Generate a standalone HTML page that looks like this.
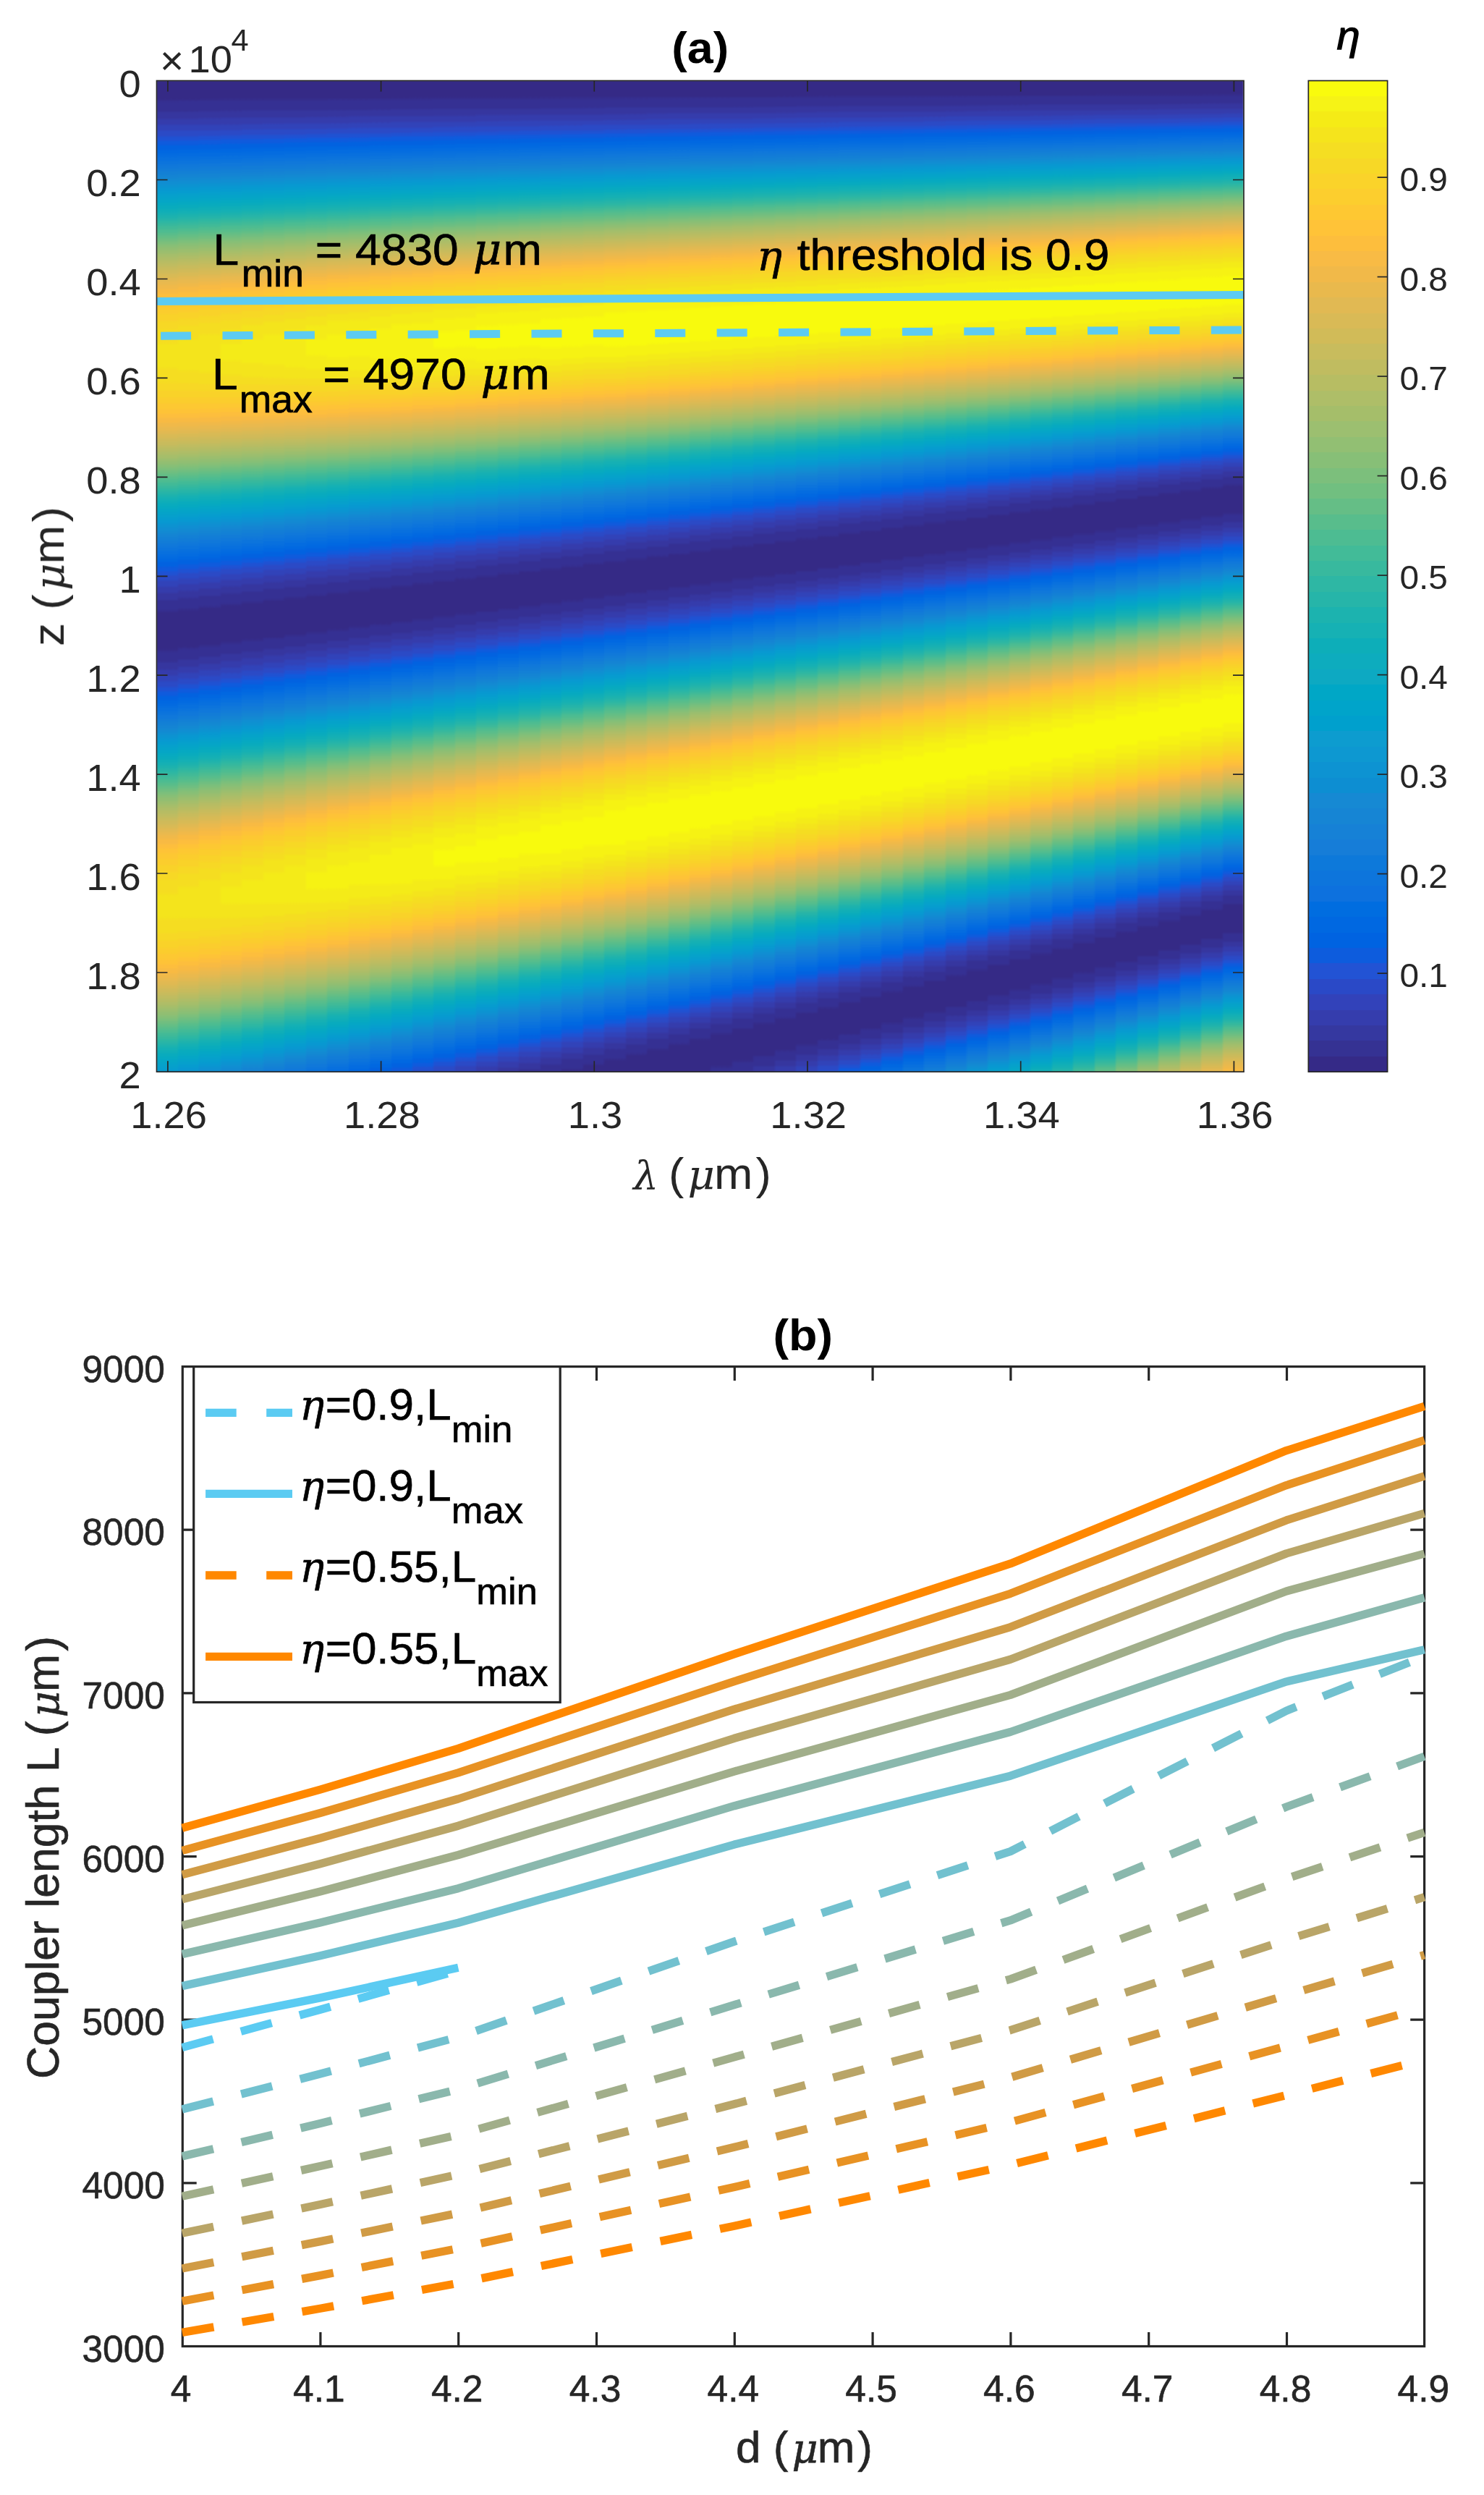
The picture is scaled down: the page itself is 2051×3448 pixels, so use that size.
<!DOCTYPE html>
<html lang="en"><head><meta charset="utf-8"><title>(a) (b)</title>
<style>html,body{margin:0;padding:0;background:#fff}svg{display:block}text{font-family:'Liberation Sans', sans-serif}</style></head><body>
<svg width="2051" height="3448" viewBox="0 0 2051 3448">
<rect width="2051" height="3448" fill="#fff"/>
<defs>
<linearGradient id="g" x1="0" y1="0" x2="0" y2="1">
<stop offset="0" stop-color="#000000"/>
<stop offset="0.005" stop-color="#000000"/>
<stop offset="0.01" stop-color="#020202"/>
<stop offset="0.015" stop-color="#040404"/>
<stop offset="0.02" stop-color="#060606"/>
<stop offset="0.025" stop-color="#0a0a0a"/>
<stop offset="0.03" stop-color="#0e0e0e"/>
<stop offset="0.035" stop-color="#131313"/>
<stop offset="0.04" stop-color="#181818"/>
<stop offset="0.045" stop-color="#1f1f1f"/>
<stop offset="0.05" stop-color="#252525"/>
<stop offset="0.055" stop-color="#2d2d2d"/>
<stop offset="0.06" stop-color="#353535"/>
<stop offset="0.065" stop-color="#3d3d3d"/>
<stop offset="0.07" stop-color="#464646"/>
<stop offset="0.075" stop-color="#4f4f4f"/>
<stop offset="0.08" stop-color="#585858"/>
<stop offset="0.085" stop-color="#626262"/>
<stop offset="0.09" stop-color="#6c6c6c"/>
<stop offset="0.095" stop-color="#757575"/>
<stop offset="0.1" stop-color="#7f7f7f"/>
<stop offset="0.105" stop-color="#8a8a8a"/>
<stop offset="0.11" stop-color="#939393"/>
<stop offset="0.115" stop-color="#9d9d9d"/>
<stop offset="0.12" stop-color="#a7a7a7"/>
<stop offset="0.125" stop-color="#b0b0b0"/>
<stop offset="0.13" stop-color="#b9b9b9"/>
<stop offset="0.135" stop-color="#c2c2c2"/>
<stop offset="0.14" stop-color="#cacaca"/>
<stop offset="0.145" stop-color="#d2d2d2"/>
<stop offset="0.15" stop-color="#dadada"/>
<stop offset="0.155" stop-color="#e0e0e0"/>
<stop offset="0.16" stop-color="#e7e7e7"/>
<stop offset="0.165" stop-color="#ececec"/>
<stop offset="0.17" stop-color="#f1f1f1"/>
<stop offset="0.175" stop-color="#f5f5f5"/>
<stop offset="0.18" stop-color="#f9f9f9"/>
<stop offset="0.185" stop-color="#fbfbfb"/>
<stop offset="0.19" stop-color="#fdfdfd"/>
<stop offset="0.195" stop-color="#ffffff"/>
<stop offset="0.2" stop-color="#ffffff"/>
<stop offset="0.205" stop-color="#ffffff"/>
<stop offset="0.21" stop-color="#fdfdfd"/>
<stop offset="0.215" stop-color="#fbfbfb"/>
<stop offset="0.22" stop-color="#f9f9f9"/>
<stop offset="0.225" stop-color="#f5f5f5"/>
<stop offset="0.23" stop-color="#f1f1f1"/>
<stop offset="0.235" stop-color="#ececec"/>
<stop offset="0.24" stop-color="#e7e7e7"/>
<stop offset="0.245" stop-color="#e0e0e0"/>
<stop offset="0.25" stop-color="#dadada"/>
<stop offset="0.255" stop-color="#d2d2d2"/>
<stop offset="0.26" stop-color="#cacaca"/>
<stop offset="0.265" stop-color="#c2c2c2"/>
<stop offset="0.27" stop-color="#b9b9b9"/>
<stop offset="0.275" stop-color="#b0b0b0"/>
<stop offset="0.28" stop-color="#a7a7a7"/>
<stop offset="0.285" stop-color="#9d9d9d"/>
<stop offset="0.29" stop-color="#939393"/>
<stop offset="0.295" stop-color="#8a8a8a"/>
<stop offset="0.3" stop-color="#808080"/>
<stop offset="0.305" stop-color="#757575"/>
<stop offset="0.31" stop-color="#6c6c6c"/>
<stop offset="0.315" stop-color="#626262"/>
<stop offset="0.32" stop-color="#585858"/>
<stop offset="0.325" stop-color="#4f4f4f"/>
<stop offset="0.33" stop-color="#464646"/>
<stop offset="0.335" stop-color="#3d3d3d"/>
<stop offset="0.34" stop-color="#353535"/>
<stop offset="0.345" stop-color="#2d2d2d"/>
<stop offset="0.35" stop-color="#252525"/>
<stop offset="0.355" stop-color="#1f1f1f"/>
<stop offset="0.36" stop-color="#181818"/>
<stop offset="0.365" stop-color="#131313"/>
<stop offset="0.37" stop-color="#0e0e0e"/>
<stop offset="0.375" stop-color="#0a0a0a"/>
<stop offset="0.38" stop-color="#060606"/>
<stop offset="0.385" stop-color="#040404"/>
<stop offset="0.39" stop-color="#020202"/>
<stop offset="0.395" stop-color="#000000"/>
<stop offset="0.4" stop-color="#000000"/>
<stop offset="0.405" stop-color="#000000"/>
<stop offset="0.41" stop-color="#020202"/>
<stop offset="0.415" stop-color="#040404"/>
<stop offset="0.42" stop-color="#060606"/>
<stop offset="0.425" stop-color="#0a0a0a"/>
<stop offset="0.43" stop-color="#0e0e0e"/>
<stop offset="0.435" stop-color="#131313"/>
<stop offset="0.44" stop-color="#181818"/>
<stop offset="0.445" stop-color="#1f1f1f"/>
<stop offset="0.45" stop-color="#252525"/>
<stop offset="0.455" stop-color="#2d2d2d"/>
<stop offset="0.46" stop-color="#353535"/>
<stop offset="0.465" stop-color="#3d3d3d"/>
<stop offset="0.47" stop-color="#464646"/>
<stop offset="0.475" stop-color="#4f4f4f"/>
<stop offset="0.48" stop-color="#585858"/>
<stop offset="0.485" stop-color="#626262"/>
<stop offset="0.49" stop-color="#6c6c6c"/>
<stop offset="0.495" stop-color="#757575"/>
<stop offset="0.5" stop-color="#7f7f7f"/>
<stop offset="0.505" stop-color="#8a8a8a"/>
<stop offset="0.51" stop-color="#939393"/>
<stop offset="0.515" stop-color="#9d9d9d"/>
<stop offset="0.52" stop-color="#a7a7a7"/>
<stop offset="0.525" stop-color="#b0b0b0"/>
<stop offset="0.53" stop-color="#b9b9b9"/>
<stop offset="0.535" stop-color="#c2c2c2"/>
<stop offset="0.54" stop-color="#cacaca"/>
<stop offset="0.545" stop-color="#d2d2d2"/>
<stop offset="0.55" stop-color="#dadada"/>
<stop offset="0.555" stop-color="#e0e0e0"/>
<stop offset="0.56" stop-color="#e7e7e7"/>
<stop offset="0.565" stop-color="#ececec"/>
<stop offset="0.57" stop-color="#f1f1f1"/>
<stop offset="0.575" stop-color="#f5f5f5"/>
<stop offset="0.58" stop-color="#f9f9f9"/>
<stop offset="0.585" stop-color="#fbfbfb"/>
<stop offset="0.59" stop-color="#fdfdfd"/>
<stop offset="0.595" stop-color="#ffffff"/>
<stop offset="0.6" stop-color="#ffffff"/>
<stop offset="0.605" stop-color="#ffffff"/>
<stop offset="0.61" stop-color="#fdfdfd"/>
<stop offset="0.615" stop-color="#fbfbfb"/>
<stop offset="0.62" stop-color="#f9f9f9"/>
<stop offset="0.625" stop-color="#f5f5f5"/>
<stop offset="0.63" stop-color="#f1f1f1"/>
<stop offset="0.635" stop-color="#ececec"/>
<stop offset="0.64" stop-color="#e7e7e7"/>
<stop offset="0.645" stop-color="#e0e0e0"/>
<stop offset="0.65" stop-color="#dadada"/>
<stop offset="0.655" stop-color="#d2d2d2"/>
<stop offset="0.66" stop-color="#cacaca"/>
<stop offset="0.665" stop-color="#c2c2c2"/>
<stop offset="0.67" stop-color="#b9b9b9"/>
<stop offset="0.675" stop-color="#b0b0b0"/>
<stop offset="0.68" stop-color="#a7a7a7"/>
<stop offset="0.685" stop-color="#9d9d9d"/>
<stop offset="0.69" stop-color="#939393"/>
<stop offset="0.695" stop-color="#8a8a8a"/>
<stop offset="0.7" stop-color="#808080"/>
<stop offset="0.705" stop-color="#757575"/>
<stop offset="0.71" stop-color="#6c6c6c"/>
<stop offset="0.715" stop-color="#626262"/>
<stop offset="0.72" stop-color="#585858"/>
<stop offset="0.725" stop-color="#4f4f4f"/>
<stop offset="0.73" stop-color="#464646"/>
<stop offset="0.735" stop-color="#3d3d3d"/>
<stop offset="0.74" stop-color="#353535"/>
<stop offset="0.745" stop-color="#2d2d2d"/>
<stop offset="0.75" stop-color="#252525"/>
<stop offset="0.755" stop-color="#1f1f1f"/>
<stop offset="0.76" stop-color="#181818"/>
<stop offset="0.765" stop-color="#131313"/>
<stop offset="0.77" stop-color="#0e0e0e"/>
<stop offset="0.775" stop-color="#0a0a0a"/>
<stop offset="0.78" stop-color="#060606"/>
<stop offset="0.785" stop-color="#040404"/>
<stop offset="0.79" stop-color="#020202"/>
<stop offset="0.795" stop-color="#000000"/>
<stop offset="0.8" stop-color="#000000"/>
<stop offset="0.805" stop-color="#000000"/>
<stop offset="0.81" stop-color="#020202"/>
<stop offset="0.815" stop-color="#040404"/>
<stop offset="0.82" stop-color="#060606"/>
<stop offset="0.825" stop-color="#0a0a0a"/>
<stop offset="0.83" stop-color="#0e0e0e"/>
<stop offset="0.835" stop-color="#131313"/>
<stop offset="0.84" stop-color="#181818"/>
<stop offset="0.845" stop-color="#1f1f1f"/>
<stop offset="0.85" stop-color="#252525"/>
<stop offset="0.855" stop-color="#2d2d2d"/>
<stop offset="0.86" stop-color="#353535"/>
<stop offset="0.865" stop-color="#3d3d3d"/>
<stop offset="0.87" stop-color="#464646"/>
<stop offset="0.875" stop-color="#4f4f4f"/>
<stop offset="0.88" stop-color="#585858"/>
<stop offset="0.885" stop-color="#626262"/>
<stop offset="0.89" stop-color="#6c6c6c"/>
<stop offset="0.895" stop-color="#757575"/>
<stop offset="0.9" stop-color="#7f7f7f"/>
<stop offset="0.905" stop-color="#8a8a8a"/>
<stop offset="0.91" stop-color="#939393"/>
<stop offset="0.915" stop-color="#9d9d9d"/>
<stop offset="0.92" stop-color="#a7a7a7"/>
<stop offset="0.925" stop-color="#b0b0b0"/>
<stop offset="0.93" stop-color="#b9b9b9"/>
<stop offset="0.935" stop-color="#c2c2c2"/>
<stop offset="0.94" stop-color="#cacaca"/>
<stop offset="0.945" stop-color="#d2d2d2"/>
<stop offset="0.95" stop-color="#dadada"/>
<stop offset="0.955" stop-color="#e0e0e0"/>
<stop offset="0.96" stop-color="#e7e7e7"/>
<stop offset="0.965" stop-color="#ececec"/>
<stop offset="0.97" stop-color="#f1f1f1"/>
<stop offset="0.975" stop-color="#f5f5f5"/>
<stop offset="0.98" stop-color="#f9f9f9"/>
<stop offset="0.985" stop-color="#fbfbfb"/>
<stop offset="0.99" stop-color="#fdfdfd"/>
<stop offset="0.995" stop-color="#ffffff"/>
<stop offset="1" stop-color="#ffffff"/>
</linearGradient>
<filter id="pm" filterUnits="userSpaceOnUse" x="216" y="111" width="1503" height="1371" color-interpolation-filters="sRGB">
<feComponentTransfer>
<feFuncR type="discrete" tableValues="0.2081 0.2116 0.2123 0.2081 0.1959 0.1707 0.1253 0.0591 0.0117 0.006 0.0165 0.0329 0.0498 0.0629 0.0723 0.0779 0.0793 0.0749 0.0641 0.0488 0.0343 0.0265 0.0239 0.0231 0.0228 0.0267 0.0384 0.059 0.0843 0.1133 0.1453 0.1801 0.2178 0.2586 0.3022 0.3482 0.3953 0.442 0.4871 0.53 0.5709 0.6099 0.6473 0.6834 0.7184 0.7525 0.7858 0.8185 0.8507 0.8824 0.9139 0.945 0.9739 0.9938 0.999 0.9955 0.988 0.9789 0.9697 0.9626 0.9589 0.9598 0.9661 0.9763"/>
<feFuncG type="discrete" tableValues="0.1663 0.1898 0.2138 0.2386 0.2645 0.2919 0.3242 0.3598 0.3875 0.4086 0.4266 0.443 0.4586 0.4737 0.4887 0.504 0.52 0.5375 0.557 0.5772 0.5966 0.6137 0.6287 0.6418 0.6535 0.6642 0.6743 0.6838 0.6928 0.7015 0.7098 0.7177 0.725 0.7317 0.7376 0.7424 0.7459 0.7481 0.7491 0.7491 0.7485 0.7473 0.7456 0.7435 0.7411 0.7384 0.7356 0.7327 0.7299 0.7274 0.7258 0.7261 0.7314 0.7455 0.7653 0.7861 0.8066 0.8271 0.8481 0.8705 0.8949 0.9218 0.9514 0.9831"/>
<feFuncB type="discrete" tableValues="0.5292 0.5777 0.627 0.6771 0.7279 0.7792 0.8303 0.8683 0.882 0.8828 0.8786 0.872 0.8641 0.8554 0.8467 0.8384 0.8312 0.8263 0.824 0.8228 0.8199 0.8135 0.8038 0.7913 0.7768 0.7607 0.7436 0.7254 0.7062 0.6859 0.6646 0.6424 0.6193 0.5954 0.5712 0.5473 0.5244 0.5033 0.484 0.4661 0.4494 0.4337 0.4188 0.4044 0.3905 0.3768 0.3633 0.3498 0.336 0.3217 0.3063 0.2886 0.2666 0.2403 0.2164 0.1967 0.1794 0.1633 0.1475 0.1309 0.1132 0.0948 0.0755 0.0538"/>
</feComponentTransfer>
<feGaussianBlur stdDeviation="1.3"/>
</filter>
<filter id="bl" filterUnits="userSpaceOnUse" x="0" y="0" width="2051" height="1720"><feGaussianBlur stdDeviation="0.65"/></filter>
<linearGradient id="cb" x1="0" y1="1" x2="0" y2="0">
<stop offset="0" stop-color="#352a87"/><stop offset="0.015625" stop-color="#352a87"/>
<stop offset="0.015625" stop-color="#363093"/><stop offset="0.03125" stop-color="#363093"/>
<stop offset="0.03125" stop-color="#3637a0"/><stop offset="0.046875" stop-color="#3637a0"/>
<stop offset="0.046875" stop-color="#353dad"/><stop offset="0.0625" stop-color="#353dad"/>
<stop offset="0.0625" stop-color="#3243ba"/><stop offset="0.078125" stop-color="#3243ba"/>
<stop offset="0.078125" stop-color="#2c4ac7"/><stop offset="0.09375" stop-color="#2c4ac7"/>
<stop offset="0.09375" stop-color="#2053d4"/><stop offset="0.10938" stop-color="#2053d4"/>
<stop offset="0.10938" stop-color="#0f5cdd"/><stop offset="0.125" stop-color="#0f5cdd"/>
<stop offset="0.125" stop-color="#0363e1"/><stop offset="0.14062" stop-color="#0363e1"/>
<stop offset="0.14062" stop-color="#0268e1"/><stop offset="0.15625" stop-color="#0268e1"/>
<stop offset="0.15625" stop-color="#046de0"/><stop offset="0.17188" stop-color="#046de0"/>
<stop offset="0.17188" stop-color="#0871de"/><stop offset="0.1875" stop-color="#0871de"/>
<stop offset="0.1875" stop-color="#0d75dc"/><stop offset="0.20312" stop-color="#0d75dc"/>
<stop offset="0.20312" stop-color="#1079da"/><stop offset="0.21875" stop-color="#1079da"/>
<stop offset="0.21875" stop-color="#127dd8"/><stop offset="0.23438" stop-color="#127dd8"/>
<stop offset="0.23438" stop-color="#1481d6"/><stop offset="0.25" stop-color="#1481d6"/>
<stop offset="0.25" stop-color="#1485d4"/><stop offset="0.26562" stop-color="#1485d4"/>
<stop offset="0.26562" stop-color="#1389d3"/><stop offset="0.28125" stop-color="#1389d3"/>
<stop offset="0.28125" stop-color="#108ed2"/><stop offset="0.29688" stop-color="#108ed2"/>
<stop offset="0.29688" stop-color="#0c93d2"/><stop offset="0.3125" stop-color="#0c93d2"/>
<stop offset="0.3125" stop-color="#0998d1"/><stop offset="0.32812" stop-color="#0998d1"/>
<stop offset="0.32812" stop-color="#079ccf"/><stop offset="0.34375" stop-color="#079ccf"/>
<stop offset="0.34375" stop-color="#06a0cd"/><stop offset="0.35938" stop-color="#06a0cd"/>
<stop offset="0.35938" stop-color="#06a4ca"/><stop offset="0.375" stop-color="#06a4ca"/>
<stop offset="0.375" stop-color="#06a7c6"/><stop offset="0.39062" stop-color="#06a7c6"/>
<stop offset="0.39062" stop-color="#07a9c2"/><stop offset="0.40625" stop-color="#07a9c2"/>
<stop offset="0.40625" stop-color="#0aacbe"/><stop offset="0.42188" stop-color="#0aacbe"/>
<stop offset="0.42188" stop-color="#0faeb9"/><stop offset="0.4375" stop-color="#0faeb9"/>
<stop offset="0.4375" stop-color="#15b1b4"/><stop offset="0.45312" stop-color="#15b1b4"/>
<stop offset="0.45312" stop-color="#1db3af"/><stop offset="0.46875" stop-color="#1db3af"/>
<stop offset="0.46875" stop-color="#25b5a9"/><stop offset="0.48438" stop-color="#25b5a9"/>
<stop offset="0.48438" stop-color="#2eb7a4"/><stop offset="0.5" stop-color="#2eb7a4"/>
<stop offset="0.5" stop-color="#38b99e"/><stop offset="0.51562" stop-color="#38b99e"/>
<stop offset="0.51562" stop-color="#42bb98"/><stop offset="0.53125" stop-color="#42bb98"/>
<stop offset="0.53125" stop-color="#4dbc92"/><stop offset="0.54688" stop-color="#4dbc92"/>
<stop offset="0.54688" stop-color="#59bd8c"/><stop offset="0.5625" stop-color="#59bd8c"/>
<stop offset="0.5625" stop-color="#65be86"/><stop offset="0.57812" stop-color="#65be86"/>
<stop offset="0.57812" stop-color="#71bf80"/><stop offset="0.59375" stop-color="#71bf80"/>
<stop offset="0.59375" stop-color="#7cbf7b"/><stop offset="0.60938" stop-color="#7cbf7b"/>
<stop offset="0.60938" stop-color="#87bf77"/><stop offset="0.625" stop-color="#87bf77"/>
<stop offset="0.625" stop-color="#92bf73"/><stop offset="0.64062" stop-color="#92bf73"/>
<stop offset="0.64062" stop-color="#9cbf6f"/><stop offset="0.65625" stop-color="#9cbf6f"/>
<stop offset="0.65625" stop-color="#a5be6b"/><stop offset="0.67188" stop-color="#a5be6b"/>
<stop offset="0.67188" stop-color="#aebe67"/><stop offset="0.6875" stop-color="#aebe67"/>
<stop offset="0.6875" stop-color="#b7bd64"/><stop offset="0.70312" stop-color="#b7bd64"/>
<stop offset="0.70312" stop-color="#c0bc60"/><stop offset="0.71875" stop-color="#c0bc60"/>
<stop offset="0.71875" stop-color="#c8bc5d"/><stop offset="0.73438" stop-color="#c8bc5d"/>
<stop offset="0.73438" stop-color="#d1bb59"/><stop offset="0.75" stop-color="#d1bb59"/>
<stop offset="0.75" stop-color="#d9ba56"/><stop offset="0.76562" stop-color="#d9ba56"/>
<stop offset="0.76562" stop-color="#e1b952"/><stop offset="0.78125" stop-color="#e1b952"/>
<stop offset="0.78125" stop-color="#e9b94e"/><stop offset="0.79688" stop-color="#e9b94e"/>
<stop offset="0.79688" stop-color="#f1b94a"/><stop offset="0.8125" stop-color="#f1b94a"/>
<stop offset="0.8125" stop-color="#f8bb44"/><stop offset="0.82812" stop-color="#f8bb44"/>
<stop offset="0.82812" stop-color="#fdbe3d"/><stop offset="0.84375" stop-color="#fdbe3d"/>
<stop offset="0.84375" stop-color="#ffc337"/><stop offset="0.85938" stop-color="#ffc337"/>
<stop offset="0.85938" stop-color="#fec832"/><stop offset="0.875" stop-color="#fec832"/>
<stop offset="0.875" stop-color="#fcce2e"/><stop offset="0.89062" stop-color="#fcce2e"/>
<stop offset="0.89062" stop-color="#fad32a"/><stop offset="0.90625" stop-color="#fad32a"/>
<stop offset="0.90625" stop-color="#f7d826"/><stop offset="0.92188" stop-color="#f7d826"/>
<stop offset="0.92188" stop-color="#f5de21"/><stop offset="0.9375" stop-color="#f5de21"/>
<stop offset="0.9375" stop-color="#f5e41d"/><stop offset="0.95312" stop-color="#f5e41d"/>
<stop offset="0.95312" stop-color="#f5eb18"/><stop offset="0.96875" stop-color="#f5eb18"/>
<stop offset="0.96875" stop-color="#f6f313"/><stop offset="0.98438" stop-color="#f6f313"/>
<stop offset="0.98438" stop-color="#f9fb0e"/><stop offset="1" stop-color="#f9fb0e"/>
</linearGradient>
<clipPath id="ca"><rect x="216.50" y="111.50" width="1502.50" height="1369.70"/></clipPath>
<clipPath id="cbx"><rect x="252.3" y="1888.6" width="1716.9" height="1353.9"/></clipPath>
</defs>
<g filter="url(#pm)">
<rect x="211.5" y="106.5" width="1512.5" height="1379.7" fill="#000"/>
<rect x="215" y="111.50" width="31" height="1901.76" fill="url(#g)" fill-opacity="0.945"/>
<rect x="246" y="111.50" width="29" height="1893.42" fill="url(#g)" fill-opacity="0.949"/>
<rect x="275" y="111.50" width="30" height="1885.06" fill="url(#g)" fill-opacity="0.953"/>
<rect x="305" y="111.50" width="29" height="1876.66" fill="url(#g)" fill-opacity="0.957"/>
<rect x="334" y="111.50" width="30" height="1868.23" fill="url(#g)" fill-opacity="0.961"/>
<rect x="364" y="111.50" width="29" height="1859.77" fill="url(#g)" fill-opacity="0.965"/>
<rect x="393" y="111.50" width="30" height="1851.28" fill="url(#g)" fill-opacity="0.968"/>
<rect x="423" y="111.50" width="29" height="1842.76" fill="url(#g)" fill-opacity="0.971"/>
<rect x="452" y="111.50" width="30" height="1834.21" fill="url(#g)" fill-opacity="0.975"/>
<rect x="482" y="111.50" width="29" height="1825.63" fill="url(#g)" fill-opacity="0.977"/>
<rect x="511" y="111.50" width="30" height="1817.01" fill="url(#g)" fill-opacity="0.980"/>
<rect x="541" y="111.50" width="29" height="1808.37" fill="url(#g)" fill-opacity="0.983"/>
<rect x="570" y="111.50" width="29" height="1799.69" fill="url(#g)" fill-opacity="0.985"/>
<rect x="599" y="111.50" width="30" height="1790.99" fill="url(#g)" fill-opacity="0.987"/>
<rect x="629" y="111.50" width="29" height="1782.25" fill="url(#g)" fill-opacity="0.989"/>
<rect x="658" y="111.50" width="30" height="1773.49" fill="url(#g)" fill-opacity="0.991"/>
<rect x="688" y="111.50" width="29" height="1764.69" fill="url(#g)" fill-opacity="0.993"/>
<rect x="717" y="111.50" width="30" height="1755.86" fill="url(#g)" fill-opacity="0.994"/>
<rect x="747" y="111.50" width="29" height="1747.01" fill="url(#g)" fill-opacity="0.996"/>
<rect x="776" y="111.50" width="30" height="1738.12" fill="url(#g)" fill-opacity="0.997"/>
<rect x="806" y="111.50" width="29" height="1729.20" fill="url(#g)" fill-opacity="0.998"/>
<rect x="835" y="111.50" width="30" height="1720.25" fill="url(#g)" fill-opacity="0.999"/>
<rect x="865" y="111.50" width="29" height="1711.27" fill="url(#g)" fill-opacity="0.999"/>
<rect x="894" y="111.50" width="30" height="1702.25" fill="url(#g)" fill-opacity="1.000"/>
<rect x="924" y="111.50" width="29" height="1693.21" fill="url(#g)" fill-opacity="1.000"/>
<rect x="953" y="111.50" width="29" height="1684.14" fill="url(#g)" fill-opacity="1.000"/>
<rect x="982" y="111.50" width="30" height="1675.03" fill="url(#g)" fill-opacity="1.000"/>
<rect x="1012" y="111.50" width="29" height="1665.90" fill="url(#g)" fill-opacity="1.000"/>
<rect x="1041" y="111.50" width="30" height="1656.73" fill="url(#g)" fill-opacity="1.000"/>
<rect x="1071" y="111.50" width="29" height="1647.54" fill="url(#g)" fill-opacity="1.000"/>
<rect x="1100" y="111.50" width="30" height="1638.31" fill="url(#g)" fill-opacity="1.000"/>
<rect x="1130" y="111.50" width="29" height="1629.06" fill="url(#g)" fill-opacity="1.000"/>
<rect x="1159" y="111.50" width="30" height="1619.77" fill="url(#g)" fill-opacity="1.000"/>
<rect x="1189" y="111.50" width="29" height="1610.45" fill="url(#g)" fill-opacity="1.000"/>
<rect x="1218" y="111.50" width="30" height="1601.10" fill="url(#g)" fill-opacity="1.000"/>
<rect x="1248" y="111.50" width="29" height="1591.72" fill="url(#g)" fill-opacity="1.000"/>
<rect x="1277" y="111.50" width="30" height="1582.31" fill="url(#g)" fill-opacity="1.000"/>
<rect x="1307" y="111.50" width="29" height="1572.87" fill="url(#g)" fill-opacity="1.000"/>
<rect x="1336" y="111.50" width="29" height="1563.40" fill="url(#g)" fill-opacity="1.000"/>
<rect x="1365" y="111.50" width="30" height="1553.89" fill="url(#g)" fill-opacity="1.000"/>
<rect x="1395" y="111.50" width="29" height="1544.36" fill="url(#g)" fill-opacity="1.000"/>
<rect x="1424" y="111.50" width="30" height="1534.80" fill="url(#g)" fill-opacity="1.000"/>
<rect x="1454" y="111.50" width="29" height="1525.20" fill="url(#g)" fill-opacity="1.000"/>
<rect x="1483" y="111.50" width="30" height="1515.58" fill="url(#g)" fill-opacity="1.000"/>
<rect x="1513" y="111.50" width="29" height="1505.92" fill="url(#g)" fill-opacity="1.000"/>
<rect x="1542" y="111.50" width="30" height="1496.23" fill="url(#g)" fill-opacity="1.000"/>
<rect x="1572" y="111.50" width="29" height="1486.52" fill="url(#g)" fill-opacity="1.000"/>
<rect x="1601" y="111.50" width="30" height="1476.77" fill="url(#g)" fill-opacity="1.000"/>
<rect x="1631" y="111.50" width="29" height="1466.99" fill="url(#g)" fill-opacity="1.000"/>
<rect x="1660" y="111.50" width="30" height="1457.18" fill="url(#g)" fill-opacity="1.000"/>
<rect x="1690" y="111.50" width="31" height="1447.34" fill="url(#g)" fill-opacity="1.000"/>
</g>
<g filter="url(#bl)">
<g clip-path="url(#ca)" fill="none" stroke="#5bcbf2" stroke-width="11">
<path d="M216.5 416.5L1719.0 407.5"/>
<path d="M216.5 464.2L1719.0 455.9" stroke-dasharray="42 43.4" stroke-dashoffset="-5.6"/>
</g>
<g stroke="#262626" stroke-width="1.7" fill="none">
<rect x="216.50" y="111.50" width="1502.50" height="1369.70"/>
<path d="M231.9 1481.2v-15M231.9 111.5v15"/>
<path d="M526.6 1481.2v-15M526.6 111.5v15"/>
<path d="M821.3 1481.2v-15M821.3 111.5v15"/>
<path d="M1116.0 1481.2v-15M1116.0 111.5v15"/>
<path d="M1410.7 1481.2v-15M1410.7 111.5v15"/>
<path d="M1705.4 1481.2v-15M1705.4 111.5v15"/>
<path d="M216.5 248.5h15M1719.0 248.5h-15"/>
<path d="M216.5 385.5h15M1719.0 385.5h-15"/>
<path d="M216.5 522.4h15M1719.0 522.4h-15"/>
<path d="M216.5 659.3h15M1719.0 659.3h-15"/>
<path d="M216.5 796.3h15M1719.0 796.3h-15"/>
<path d="M216.5 933.2h15M1719.0 933.2h-15"/>
<path d="M216.5 1070.1h15M1719.0 1070.1h-15"/>
<path d="M216.5 1207.0h15M1719.0 1207.0h-15"/>
<path d="M216.5 1344.0h15M1719.0 1344.0h-15"/>
</g>
<text transform="translate(233.1 1558.5) scale(1.035 1)" font-size="52.5" text-anchor="middle" fill="#262626">1.26</text>
<text transform="translate(527.8 1558.5) scale(1.035 1)" font-size="52.5" text-anchor="middle" fill="#262626">1.28</text>
<text transform="translate(822.5 1558.5) scale(1.035 1)" font-size="52.5" text-anchor="middle" fill="#262626">1.3</text>
<text transform="translate(1117.2 1558.5) scale(1.035 1)" font-size="52.5" text-anchor="middle" fill="#262626">1.32</text>
<text transform="translate(1411.9 1558.5) scale(1.035 1)" font-size="52.5" text-anchor="middle" fill="#262626">1.34</text>
<text transform="translate(1706.6 1558.5) scale(1.035 1)" font-size="52.5" text-anchor="middle" fill="#262626">1.36</text>
<text transform="translate(194.8 134.4) scale(1.035 1)" font-size="52.5" text-anchor="end" fill="#262626">0</text>
<text transform="translate(194.8 271.3) scale(1.035 1)" font-size="52.5" text-anchor="end" fill="#262626">0.2</text>
<text transform="translate(194.8 408.3) scale(1.035 1)" font-size="52.5" text-anchor="end" fill="#262626">0.4</text>
<text transform="translate(194.8 545.2) scale(1.035 1)" font-size="52.5" text-anchor="end" fill="#262626">0.6</text>
<text transform="translate(194.8 682.1) scale(1.035 1)" font-size="52.5" text-anchor="end" fill="#262626">0.8</text>
<text transform="translate(194.8 819.1) scale(1.035 1)" font-size="52.5" text-anchor="end" fill="#262626">1</text>
<text transform="translate(194.8 956.0) scale(1.035 1)" font-size="52.5" text-anchor="end" fill="#262626">1.2</text>
<text transform="translate(194.8 1092.9) scale(1.035 1)" font-size="52.5" text-anchor="end" fill="#262626">1.4</text>
<text transform="translate(194.8 1229.8) scale(1.035 1)" font-size="52.5" text-anchor="end" fill="#262626">1.6</text>
<text transform="translate(194.8 1366.8) scale(1.035 1)" font-size="52.5" text-anchor="end" fill="#262626">1.8</text>
<text transform="translate(194.8 1503.7) scale(1.035 1)" font-size="52.5" text-anchor="end" fill="#262626">2</text>
<text transform="translate(221.0 103.0) scale(1.035 1)" font-size="55.0" text-anchor="start" fill="#262626">×</text>
<text transform="translate(260.5 99.6) scale(1.035 1)" font-size="52.5" text-anchor="start" fill="#262626">10</text>
<text transform="translate(319.5 70.0) scale(1.035 1)" font-size="42.0" text-anchor="start" fill="#262626">4</text>
<text transform="translate(967.8 87.0) scale(1.060 1)" font-size="61.0" text-anchor="middle" fill="#000" font-weight="bold">(a)</text>
<text transform="translate(970.6 1643.3) scale(1.035 1)" font-size="62.0" text-anchor="middle" fill="#262626"><tspan font-family="'DejaVu Serif', 'Liberation Serif', serif" font-style="italic" font-size="86%">λ</tspan><tspan dx="-4"> </tspan>(<tspan font-family="'DejaVu Serif', 'Liberation Serif', serif" font-style="italic" font-size="90%" dx="5.0">μ</tspan><tspan dx="-1.0">m</tspan><tspan dx="4.0">)</tspan></text>
<text transform="translate(88.0 796.5) rotate(-90) scale(1.040 1)" font-size="62.0" text-anchor="middle" fill="#262626">z (<tspan font-family="'DejaVu Serif', 'Liberation Serif', serif" font-style="italic" font-size="90%" dx="5.0">μ</tspan><tspan dx="-1.0">m</tspan><tspan dx="4.0">)</tspan></text>
<text transform="translate(294.5 365.7) scale(1.035 1)" font-size="62.0" text-anchor="start" fill="#000" stroke="#000" stroke-width="0.7">L<tspan dy="30.7" dx="3.5" font-size="51.7">min</tspan><tspan dy="-30.7" dx="-2"> = 4830 </tspan><tspan font-family="'DejaVu Serif', 'Liberation Serif', serif" font-style="italic" font-size="95%" dx="2.0">μ</tspan><tspan dx="2.0">m</tspan></text>
<text transform="translate(293.0 538.2) scale(1.035 1)" font-size="62.0" text-anchor="start" fill="#000" stroke="#000" stroke-width="0.7">L<tspan dy="32.2" dx="2" font-size="51.7">max</tspan><tspan dy="-32.2" dx="-3"> = 4970 </tspan><tspan font-family="'DejaVu Serif', 'Liberation Serif', serif" font-style="italic" font-size="95%" dx="2.0">μ</tspan><tspan dx="2.0">m</tspan></text>
<text transform="translate(1046.0 373.0) scale(1.035 1)" font-size="61.5" text-anchor="start" fill="#000" stroke="#000" stroke-width="0.7"><tspan font-family="'DejaVu Serif', 'Liberation Serif', serif" font-style="italic" font-size="92%">η</tspan><tspan dx="3"> threshold is 0.9</tspan></text>
<rect x="1808.30" y="111.50" width="109.30" height="1369.70" fill="url(#cb)" stroke="#262626" stroke-width="1.7"/>
<g stroke="#262626" stroke-width="1.7">
<path d="M1917.6 1345.1h-14"/>
<path d="M1917.6 1207.6h-14"/>
<path d="M1917.6 1070.1h-14"/>
<path d="M1917.6 932.6h-14"/>
<path d="M1917.6 795.1h-14"/>
<path d="M1917.6 657.6h-14"/>
<path d="M1917.6 520.1h-14"/>
<path d="M1917.6 382.6h-14"/>
<path d="M1917.6 245.1h-14"/>
</g>
<text transform="translate(1934.5 1364.1) scale(1.035 1)" font-size="46.2" text-anchor="start" fill="#262626">0.1</text>
<text transform="translate(1934.5 1226.6) scale(1.035 1)" font-size="46.2" text-anchor="start" fill="#262626">0.2</text>
<text transform="translate(1934.5 1089.1) scale(1.035 1)" font-size="46.2" text-anchor="start" fill="#262626">0.3</text>
<text transform="translate(1934.5 951.6) scale(1.035 1)" font-size="46.2" text-anchor="start" fill="#262626">0.4</text>
<text transform="translate(1934.5 814.1) scale(1.035 1)" font-size="46.2" text-anchor="start" fill="#262626">0.5</text>
<text transform="translate(1934.5 676.6) scale(1.035 1)" font-size="46.2" text-anchor="start" fill="#262626">0.6</text>
<text transform="translate(1934.5 539.1) scale(1.035 1)" font-size="46.2" text-anchor="start" fill="#262626">0.7</text>
<text transform="translate(1934.5 401.6) scale(1.035 1)" font-size="46.2" text-anchor="start" fill="#262626">0.8</text>
<text transform="translate(1934.5 264.1) scale(1.035 1)" font-size="46.2" text-anchor="start" fill="#262626">0.9</text>
<text transform="translate(1863.5 68.0) scale(1.035 1)" font-size="56.0" text-anchor="middle" fill="#000" font-style="italic" stroke="#000" stroke-width="1.3" font-family="'DejaVu Serif', 'Liberation Serif', serif">η</text>
</g>
<g stroke="#262626" stroke-width="3.2" fill="none">
<rect x="252.30" y="1888.60" width="1716.30" height="1353.90"/>
<path d="M442.9 3242.5v-19.4M442.9 1888.6v19.4"/>
<path d="M633.7 3242.5v-19.4M633.7 1888.6v19.4"/>
<path d="M824.5 3242.5v-19.4M824.5 1888.6v19.4"/>
<path d="M1015.3 3242.5v-19.4M1015.3 1888.6v19.4"/>
<path d="M1206.1 3242.5v-19.4M1206.1 1888.6v19.4"/>
<path d="M1396.9 3242.5v-19.4M1396.9 1888.6v19.4"/>
<path d="M1587.7 3242.5v-19.4M1587.7 1888.6v19.4"/>
<path d="M1778.5 3242.5v-19.4M1778.5 1888.6v19.4"/>
<path d="M252.3 3016.8h19.4M1968.6 3016.8h-19.4"/>
<path d="M252.3 2791.2h19.4M1968.6 2791.2h-19.4"/>
<path d="M252.3 2565.6h19.4M1968.6 2565.6h-19.4"/>
<path d="M252.3 2339.9h19.4M1968.6 2339.9h-19.4"/>
<path d="M252.3 2114.2h19.4M1968.6 2114.2h-19.4"/>
</g>
<g fill="none" stroke-width="11.3" stroke-linejoin="round">
<polyline points="251.8,2829.6 442.6,2777.2 633.3,2723.1" stroke="#5bcbf2" stroke-dasharray="44.3 39.8"/>
<polyline points="251.8,2798.9 442.6,2760.9 633.3,2719.3" stroke="#5bcbf2"/>
<polyline points="251.8,2915.0 442.6,2866.0 633.3,2815.1 1014.8,2683.2 1396.4,2558.6 1777.9,2364.2 1968.6,2289.1" stroke="#72c1cf" stroke-dasharray="44.3 39.8"/>
<polyline points="251.8,2744.6 442.6,2702.7 633.3,2657.3 1014.8,2549.1 1396.4,2454.2 1777.9,2323.9 1968.6,2279.7" stroke="#72c1cf"/>
<polyline points="251.8,2979.9 442.6,2934.5 633.3,2887.3 1014.8,2770.7 1396.4,2653.9 1777.9,2497.0 1968.6,2427.3" stroke="#8ab8ad" stroke-dasharray="44.3 39.8"/>
<polyline points="251.8,2700.6 442.6,2657.0 633.3,2609.7 1014.8,2495.7 1396.4,2393.5 1777.9,2261.2 1968.6,2207.8" stroke="#8ab8ad"/>
<polyline points="251.8,3035.2 442.6,2993.6 633.3,2950.2 1014.8,2842.9 1396.4,2735.1 1777.9,2596.2 1968.6,2532.4" stroke="#a1ae8a" stroke-dasharray="44.3 39.8"/>
<polyline points="251.8,2660.9 442.6,2614.0 633.3,2563.5 1014.8,2448.1 1396.4,2342.4 1777.9,2199.0 1968.6,2147.1" stroke="#a1ae8a"/>
<polyline points="251.8,3086.3 442.6,3046.5 633.3,3005.0 1014.8,2907.8 1396.4,2805.7 1777.9,2681.0 1968.6,2621.7" stroke="#b9a568" stroke-dasharray="44.3 39.8"/>
<polyline points="251.8,2624.8 442.6,2575.8 633.3,2523.2 1014.8,2402.3 1396.4,2293.2 1777.9,2146.9 1968.6,2091.4" stroke="#b9a568"/>
<polyline points="251.8,3135.0 442.6,3097.6 633.3,3058.4 1014.8,2967.3 1396.4,2871.0 1777.9,2757.4 1968.6,2701.7" stroke="#d09b45" stroke-dasharray="44.3 39.8"/>
<polyline points="251.8,2590.8 442.6,2540.2 633.3,2486.0 1014.8,2362.2 1396.4,2248.6 1777.9,2100.9 1968.6,2039.8" stroke="#d09b45"/>
<polyline points="251.8,3180.1 442.6,3144.6 633.3,3107.3 1014.8,3022.5 1396.4,2932.8 1777.9,2827.7 1968.6,2774.5" stroke="#e89223" stroke-dasharray="44.3 39.8"/>
<polyline points="251.8,2557.4 442.6,2505.5 633.3,2449.9 1014.8,2323.6 1396.4,2202.3 1777.9,2052.6 1968.6,1990.4" stroke="#e89223"/>
<polyline points="251.8,3223.4 442.6,3190.3 633.3,3155.3 1014.8,3076.2 1396.4,2991.9 1777.9,2895.4 1968.6,2846.5" stroke="#ff8800" stroke-dasharray="44.3 39.8"/>
<polyline points="251.8,2526.3 442.6,2473.1 633.3,2416.3 1014.8,2285.8 1396.4,2160.9 1777.9,2004.6 1968.6,1943.3" stroke="#ff8800"/>
</g>
<g font-size="51.5" fill="#262626" stroke="#262626" stroke-width="0.6">
<text x="250.1" y="3318.6" text-anchor="middle">4</text>
<text x="440.9" y="3318.6" text-anchor="middle">4.1</text>
<text x="631.7" y="3318.6" text-anchor="middle">4.2</text>
<text x="822.5" y="3318.6" text-anchor="middle">4.3</text>
<text x="1013.3" y="3318.6" text-anchor="middle">4.4</text>
<text x="1204.1" y="3318.6" text-anchor="middle">4.5</text>
<text x="1394.9" y="3318.6" text-anchor="middle">4.6</text>
<text x="1585.7" y="3318.6" text-anchor="middle">4.7</text>
<text x="1776.5" y="3318.6" text-anchor="middle">4.8</text>
<text x="1967.3" y="3318.6" text-anchor="middle">4.9</text>
<text x="228" y="3263.5" text-anchor="end">3000</text>
<text x="228" y="3037.8" text-anchor="end">4000</text>
<text x="228" y="2812.2" text-anchor="end">5000</text>
<text x="228" y="2586.6" text-anchor="end">6000</text>
<text x="228" y="2360.9" text-anchor="end">7000</text>
<text x="228" y="2135.2" text-anchor="end">8000</text>
<text x="228" y="1909.6" text-anchor="end">9000</text>
</g>
<text transform="translate(1109.7 1865.5) scale(1.060 1)" font-size="61" font-weight="bold" text-anchor="middle" fill="#000">(b)</text>
<text x="1111.5" y="3402.5" font-size="62" text-anchor="middle" fill="#262626" stroke="#262626" stroke-width="0.6">d (<tspan font-family="'DejaVu Serif', 'Liberation Serif', serif" font-style="italic" font-size="90%" dx="5.0">μ</tspan><tspan dx="-1.0">m</tspan><tspan dx="4.0">)</tspan></text>
<text transform="translate(81.3 2567) rotate(-90)" font-size="62.5" text-anchor="middle" fill="#262626" stroke="#262626" stroke-width="0.6">Coupler length L (<tspan font-family="'DejaVu Serif', 'Liberation Serif', serif" font-style="italic" font-size="90%" dx="5.0">μ</tspan><tspan dx="-1.0">m</tspan><tspan dx="4.0">)</tspan></text>
<rect x="267.7" y="1888.6" width="506.5" height="463.9" fill="#fff" stroke="#262626" stroke-width="3.2"/>
<path d="M284.1 1952.3H404" stroke="#5bcbf2" stroke-width="11.3" fill="none" stroke-dasharray="42.6 41.5"/>
<text x="414" y="1961.6" font-size="62" fill="#000" stroke="#000" stroke-width="0.6"><tspan font-family="'DejaVu Serif', 'Liberation Serif', serif" font-style="italic" font-size="92%">η</tspan><tspan dx="1.5">=0.9,L</tspan><tspan dy="31" font-size="52.5">min</tspan></text>
<path d="M284.1 2064.4H404" stroke="#5bcbf2" stroke-width="11.3" fill="none"/>
<text x="414" y="2073.7" font-size="62" fill="#000" stroke="#000" stroke-width="0.6"><tspan font-family="'DejaVu Serif', 'Liberation Serif', serif" font-style="italic" font-size="92%">η</tspan><tspan dx="1.5">=0.9,L</tspan><tspan dy="31" font-size="52.5">max</tspan></text>
<path d="M284.1 2177.0H404" stroke="#ff8800" stroke-width="11.3" fill="none" stroke-dasharray="42.6 41.5"/>
<text x="414" y="2186.3" font-size="62" fill="#000" stroke="#000" stroke-width="0.6"><tspan font-family="'DejaVu Serif', 'Liberation Serif', serif" font-style="italic" font-size="92%">η</tspan><tspan dx="1.5">=0.55,L</tspan><tspan dy="31" font-size="52.5">min</tspan></text>
<path d="M284.1 2289.4H404" stroke="#ff8800" stroke-width="11.3" fill="none"/>
<text x="414" y="2298.7" font-size="62" fill="#000" stroke="#000" stroke-width="0.6"><tspan font-family="'DejaVu Serif', 'Liberation Serif', serif" font-style="italic" font-size="92%">η</tspan><tspan dx="1.5">=0.55,L</tspan><tspan dy="31" font-size="52.5">max</tspan></text>
</svg></body></html>
